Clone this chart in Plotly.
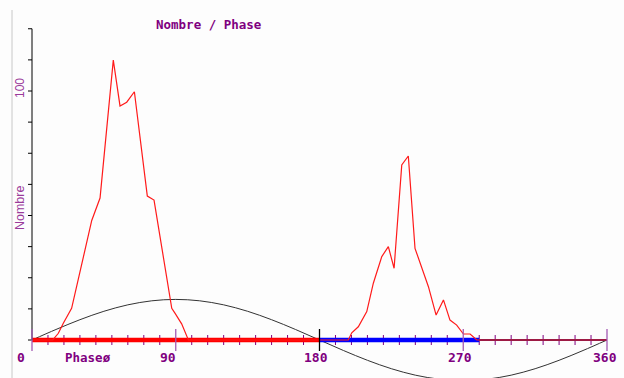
import plotly.graph_objects as go

# ---- data ----
phase = [0, 13, 16.5, 19.6, 24.8, 37.4, 42.6, 47.8, 50.9, 55.1, 59.3, 64.1, 72.2, 76.4,
         87.5, 89.5, 93.7, 97.9, 198, 200.2, 204.3, 209.6, 213.7, 219, 223.1, 226.7,
         231.5, 235.6, 239.8, 248.2, 253, 257.6, 261.7, 265.9, 270.1, 274.3, 278.5, 360]
nombre = [0, 0, 2.7, 6.7, 12.7, 48, 57, 93.7, 112.4, 94, 95.5, 99.7, 57.8, 56.2,
          12.7, 10.8, 6.5, 0, 0, 2.9, 5.3, 11.4, 22.8, 33.5, 37.5, 28.8,
          70.3, 73.9, 36.8, 21.4, 10, 16.1, 8, 6, 2.4, 2.4, 0, 0]

sine_x = [0, 15, 30, 45, 60, 75, 90, 105, 120, 135, 150, 165, 180, 195, 210, 225, 240,
          255, 270, 285, 300, 315, 330, 345, 360]
sine_y = [0, 4.22, 8.15, 11.53, 14.12, 15.74, 16.3, 15.74, 14.12, 11.53, 8.15, 4.22, 0,
          -4.22, -8.15, -11.53, -14.12, -15.74, -16.3, -15.74, -14.12, -11.53, -8.15, -4.22, 0]

band_start = [0, 180, 280]
band_end = [180, 280, 360]

x_major = [0, 90, 180, 270, 360]
x_major_labels = ["0", "90", "180", "270", "360"]
x_minor = list(range(0, 361, 10))
y_ticks = [0, 12.5, 25, 37.5, 50, 62.5, 75, 87.5, 100, 112.5, 125]

# ---- styles ----
band_colors = ["#ff0000", "#0000ff", "#3a1a6e"]
band_widths = [4.5, 4.5, 2]
label_shift = [-11, -8, -4, -3, -2]
major_tick_colors = ["#a45ab4", "#a45ab4", "#000000", "#a45ab4", "#a45ab4"]
PURPLE = "#800080"
LIGHT_PURPLE = "#9a3a9a"
MONO = "DejaVu Sans Mono, Liberation Mono, monospace"
NARROW = "Liberation Sans Narrow, Arial Narrow, sans-serif"

PX_PER_DEG = 575 / 360
PX_PER_UNIT = 2.49

fig = go.Figure()

# sine reference
fig.add_trace(go.Scatter(x=sine_x, y=sine_y, mode="lines",
                         line=dict(color="#333333", width=1, shape="spline"), hoverinfo="skip"))

# coloured bands on the baseline
for s, e, c, w in zip(band_start, band_end, band_colors, band_widths):
    fig.add_trace(go.Scatter(x=[s, e], y=[0, 0], mode="lines", line=dict(color=c, width=w), hoverinfo="skip"))

# histogram curve
fig.add_trace(go.Scatter(x=phase, y=nombre, mode="lines", line=dict(color="#ff1a1a", width=1.2)))

# y axis line
fig.add_trace(go.Scatter(x=[0, 0], y=[0, y_ticks[-1]], mode="lines", line=dict(color="#000000", width=1),
                         hoverinfo="skip"))

shapes = []
for t in y_ticks:
    shapes.append(dict(type="line", xref="x", yref="y", xsizemode="pixel", xanchor=0, x0=-4, x1=0,
                       y0=t, y1=t, line=dict(color="#000000", width=1)))
for t in x_minor:
    if t in x_major:
        continue
    shapes.append(dict(type="line", xref="x", yref="y", ysizemode="pixel", yanchor=0, y0=-5, y1=5,
                       x0=t, x1=t, line=dict(color=PURPLE, width=1), layer="below"))
for t, c in zip(x_major, major_tick_colors):
    shapes.append(dict(type="line", xref="x", yref="y", ysizemode="pixel", yanchor=0, y0=-11, y1=11,
                       x0=t, x1=t, line=dict(color=c, width=1.3)))
# panel frame line
shapes.append(dict(type="line", xref="paper", yref="paper", x0=12 / 624, x1=12 / 624, y0=0, y1=1 - 10 / 378,
                   line=dict(color="#c8c8c8", width=1)))

annotations = []
for t, lab, sh in zip(x_major, x_major_labels, label_shift):
    annotations.append(dict(x=t, y=0, xref="x", yref="y", text="<b>" + lab + "</b>", showarrow=False,
                            xshift=sh, yshift=-17, font=dict(family=MONO, size=13, color=PURPLE),
                            xanchor="center", yanchor="middle"))
annotations.append(dict(x=35, y=0, xref="x", yref="y", text="<b>Phaseø</b>", showarrow=False, yshift=-17,
                        font=dict(family=MONO, size=12.5, color=PURPLE)))
annotations.append(dict(x=111, y=y_ticks[-1], xref="x", yref="y", text="<b>Nombre / Phase</b>", showarrow=False,
                        yshift=4, font=dict(family=MONO, size=12.5, color=PURPLE)))
annotations.append(dict(x=0, y=100, xref="x", yref="y", text="100", showarrow=False, textangle=-90, xshift=-12,
                        yshift=3, font=dict(family=NARROW, size=12, color=LIGHT_PURPLE)))
annotations.append(dict(x=0, y=53, xref="x", yref="y", text="Nombre", showarrow=False, textangle=-90, xshift=-12,
                        font=dict(family=NARROW, size=12.5, color=LIGHT_PURPLE)))

fig.update_layout(
    width=624, height=378,
    margin=dict(l=0, r=0, t=0, b=0),
    paper_bgcolor="#fdfdfd", plot_bgcolor="#fdfdfd",
    showlegend=False,
    xaxis=dict(domain=[0, 1], range=[-32 / PX_PER_DEG, (624 - 32) / PX_PER_DEG], visible=False, fixedrange=True),
    yaxis=dict(domain=[0, 1], range=[-38 / PX_PER_UNIT, 340 / PX_PER_UNIT], visible=False, fixedrange=True),
    shapes=shapes, annotations=annotations,
)

fig.write_html("out.html")
